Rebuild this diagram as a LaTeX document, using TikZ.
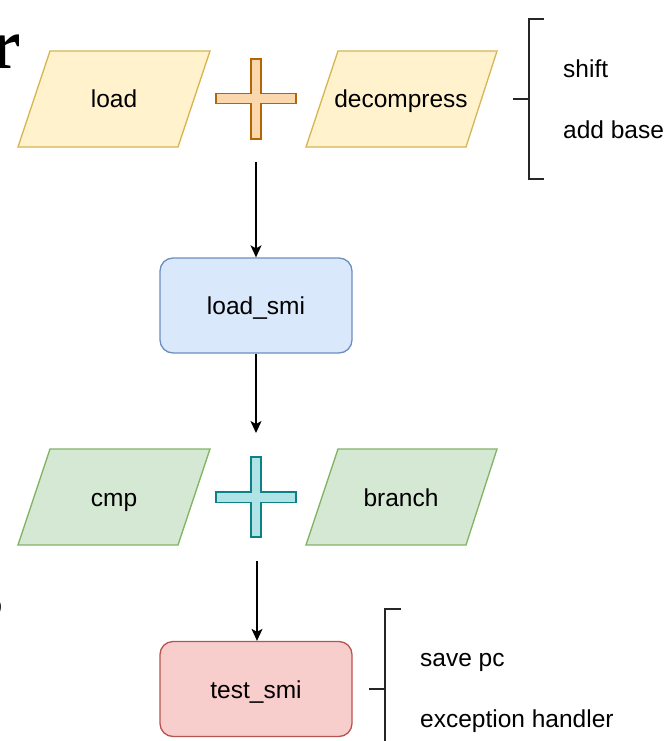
\documentclass[tikz,border=0pt]{standalone}
\usepackage{fontspec}
\newfontfamily\arial{Liberation Sans}
\newfontfamily\tserifb{Liberation Serif Bold}
\usetikzlibrary{arrows.meta}
\definecolor{yfill}{HTML}{FFF2CC}
\definecolor{ydraw}{HTML}{D6B656}
\definecolor{gfill}{HTML}{D5E8D4}
\definecolor{gdraw}{HTML}{82B366}
\definecolor{bfill}{HTML}{DAE8FC}
\definecolor{bdraw}{HTML}{6C8EBF}
\definecolor{rfill}{HTML}{F8CECC}
\definecolor{rdraw}{HTML}{B85450}
\definecolor{ofill}{HTML}{FAD7AC}
\definecolor{odraw}{HTML}{B46504}
\definecolor{tfill}{HTML}{B0E3E6}
\definecolor{tdraw}{HTML}{0E8088}
\begin{document}
\begin{tikzpicture}[x=1pt,y=-1pt,
  lbl/.style={font=\arial\fontsize{24.5}{29}\selectfont, inner sep=0pt, text=black, text height=18pt, text depth=0pt},
  shape line/.style={line width=1.3pt, line join=miter},
  rbox/.style={lbl, rounded corners=13pt, minimum width=192pt, minimum height=95pt, line width=1.3pt},
  arr/.style={line width=1.3pt, -{Stealth[length=12pt,width=11pt,inset=3pt]}},
  brk/.style={line width=1.3pt, draw=black!85},
  frag/.style={font=\tserifb\fontsize{71}{71}\selectfont, inner sep=0pt}]
\useasboundingbox (0,0) rectangle (670,741);
\clip (0,0) rectangle (670,741);
\fill[white] (0,0) rectangle (670,741);

% cut-off fragments at the left edge
\node[frag, anchor=base east] (fragr) at (21,69) {r};
\node[frag, anchor=base east] (frags) at (3,617) {s};

% row 1
\draw[shape line, fill=yfill, draw=ydraw] (50,51) -- (210,51) -- (178,147) -- (18,147) -- cycle;
\node[lbl] (load) at (114,99) {load};
\draw[shape line, fill=ofill, draw=odraw] (251,59) -- (261,59) -- (261,93.5) -- (296,93.5) -- (296,103.5) -- (261,103.5) -- (261,139) -- (251,139) -- (251,103.5) -- (216,103.5) -- (216,93.5) -- (251,93.5) -- cycle;
\coordinate (plus1) at (256,98.5);
\draw[shape line, fill=yfill, draw=ydraw] (338,51) -- (497,51) -- (466,147) -- (306,147) -- cycle;
\node[lbl] (decomp) at (401,99) {decompress};

% bracket 1
\draw[brk] (544,19) -- (529,19) -- (529,179) -- (544,179);
\coordinate (b1m) at (529,99);
\coordinate (b1t) at (513,99);
\draw[brk] (b1t) -- (b1m);
\node[lbl, anchor=base west] (shift) at (563,78) {shift};
\node[lbl, anchor=base west] (addbase) at (563,139) {add base};

% load_smi
\node[rbox, draw=bdraw, fill=bfill] (loadsmi) at (256,305.5) {load\_smi};

% row 2
\draw[shape line, fill=gfill, draw=gdraw] (50,449) -- (210,449) -- (178,545) -- (18,545) -- cycle;
\node[lbl] (cmp) at (114,497) {cmp};
\draw[shape line, fill=tfill, draw=tdraw] (251,457) -- (261,457) -- (261,492) -- (296,492) -- (296,502.5) -- (261,502.5) -- (261,537) -- (251,537) -- (251,502.5) -- (216,502.5) -- (216,492) -- (251,492) -- cycle;
\coordinate (plus2) at (256,497);
\draw[shape line, fill=gfill, draw=gdraw] (338,449) -- (497,449) -- (466,545) -- (306,545) -- cycle;
\node[lbl] (branch) at (401,497) {branch};

% test_smi
\node[rbox, draw=rdraw, fill=rfill] (testsmi) at (256,689) {test\_smi};

% bracket 2
\draw[brk] (401,609) -- (385,609) -- (385,769) -- (401,769);
\coordinate (b2m) at (385,689);
\coordinate (b2t) at (369,689);
\draw[brk] (b2t) -- (b2m);
\node[lbl, anchor=base west] (savepc) at (420,666) {save pc};
\node[lbl, anchor=base west] (exch) at (420,727) {exception handler};

% arrows
\coordinate (a1) at (256,162);
\coordinate (a3) at (257,561);
\draw[arr] (a1) -- (loadsmi.north);
\draw[arr] (loadsmi.south) -- (256,433);
\draw[arr] (a3) -- (testsmi.north -| a3);
\end{tikzpicture}
\end{document}
